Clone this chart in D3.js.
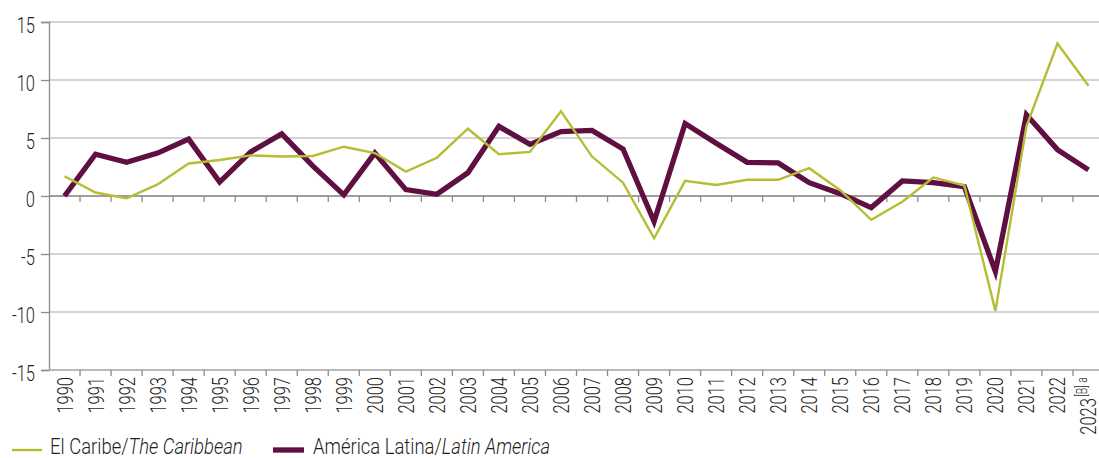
<!DOCTYPE html>
<html>
<head>
<meta charset="utf-8">
<script src="https://cdn.jsdelivr.net/npm/d3@7"></script>
<style>
  body { margin: 0; background: #fff; }
  svg { display: block; }
  text { font-family: "Roboto", "Noto Sans", sans-serif; fill: #1f1f1f; font-weight: 300; }
</style>
</head>
<body>
<script>
'use strict';

const years = d3.range(1990, 2024).map(String);
const yTicks = [-15, -10, -5, 0, 5, 10, 15];

const caribbean = [1.7, 0.3, -0.2, 1.0, 2.8, 3.1, 3.5, 3.4, 3.45, 4.25, 3.7, 2.1, 3.3, 5.8,
  3.6, 3.8, 7.3, 3.4, 1.15, -3.65, 1.3, 0.95, 1.4, 1.4, 2.4, 0.5, -2.05, -0.5, 1.6, 0.9,
  -9.9, 6.0, 13.15, 9.5];
const latinAmerica = [0.0, 3.6, 2.9, 3.7, 4.9, 1.2, 3.8, 5.35, 2.6, 0.1, 3.7, 0.55, 0.15, 2.0,
  6.0, 4.45, 5.55, 5.65, 4.05, -2.2, 6.25, 4.55, 2.9, 2.85, 1.15, 0.2, -1.0, 1.3, 1.15, 0.8,
  -6.5, 7.0, 4.0, 2.25];

const series = [
  { name: 'América Latina/', italic: 'Latin America', values: latinAmerica, color: '#5f0f40', width: 5.3 },
  { name: 'El Caribe/', italic: 'The Caribbean', values: caribbean, color: '#b5bd35', width: 2.4 }
];

const W = 1099, H = 458;
const FS = 22, SX = 0.75; // condensed look: Roboto squeezed horizontally

const svg = d3.select('body').append('svg')
  .attr('width', W).attr('height', H)
  .attr('viewBox', `0 0 ${W} ${H}`);

const x = d3.scaleBand().domain(years).range([49, 1104]);
const y = d3.scaleLinear().domain([-15, 15]).range([370, 22]);

// gridlines
svg.append('g')
  .selectAll('line')
  .data(yTicks)
  .join('line')
    .attr('x1', 49).attr('x2', W)
    .attr('y1', d => y(d)).attr('y2', d => y(d))
    .attr('stroke', '#c6c6c6')
    .attr('stroke-width', 1.3);

// y axis
const yAxis = svg.append('g')
  .attr('transform', 'translate(49,0)')
  .call(d3.axisLeft(y).tickValues(yTicks).tickSize(8).tickFormat(d => String(d)));
yAxis.select('.domain').attr('stroke', '#8c8c8c').attr('stroke-width', 1.3);
yAxis.selectAll('.tick line').attr('stroke', '#8c8c8c').attr('stroke-width', 1.3);
yAxis.selectAll('.tick text').remove();
yAxis.selectAll('.tick')
  .append('text')
    .attr('transform', `translate(-14,10) scale(${SX},1)`)
    .attr('text-anchor', 'end')
    .attr('font-size', FS)
    .text(d => String(d));

// category ticks, along the zero line and along the bottom
[0, -15].forEach(v => {
  const g = svg.append('g').attr('transform', `translate(0,${y(v)})`);
  g.append('line')
    .attr('x1', 49).attr('x2', W)
    .attr('stroke', v === 0 ? '#8c8c8c' : '#b0b0b0').attr('stroke-width', 1.3);
  g.selectAll('.tk')
    .data(years.slice(1))
    .join('line')
      .attr('class', 'tk')
      .attr('x1', d => x(d)).attr('x2', d => x(d))
      .attr('y1', 0).attr('y2', 6)
      .attr('stroke', '#8c8c8c').attr('stroke-width', 1.3);
});

// year labels, rotated
const labels = svg.append('g')
  .selectAll('text')
  .data(years)
  .join('text')
    .attr('transform', d => `translate(${x(d) + x.bandwidth() / 2 + 8},377) rotate(-90) scale(${SX},1)`)
    .attr('text-anchor', 'end')
    .attr('font-size', FS);
labels.each(function (d) {
  const t = d3.select(this);
  t.append('tspan').text(d);
  if (d === '2023') {
    t.append('tspan')
      .attr('font-size', 14)
      .attr('dx', 2)
      .attr('dy', -9)
      .text('[B] a');
  }
});

// lines
const line = d3.line()
  .x((d, i) => x(years[i]) + x.bandwidth() / 2)
  .y(d => y(d));

svg.append('g')
  .selectAll('path')
  .data(series)
  .join('path')
    .attr('d', d => line(d.values))
    .attr('fill', 'none')
    .attr('stroke', d => d.color)
    .attr('stroke-width', d => d.width)
    .attr('stroke-linejoin', 'miter');

// legend
const legendItems = [
  { s: series[1], x: 12, w: 30, tx: 50 },
  { s: series[0], x: 273, w: 31, tx: 313 }
];
const lg = svg.append('g').attr('transform', 'translate(0,454)');
legendItems.forEach(item => {
  lg.append('line')
    .attr('x1', item.x).attr('x2', item.x + item.w)
    .attr('y1', -4).attr('y2', -4)
    .attr('stroke', item.s.color)
    .attr('stroke-width', item.s.width);
  const t = lg.append('text')
    .attr('transform', `translate(${item.tx},0) scale(0.84,1)`)
    .attr('font-size', FS);
  t.append('tspan').text(item.s.name);
  t.append('tspan').attr('font-style', 'italic').text(item.s.italic);
});
</script>
</body>
</html>
